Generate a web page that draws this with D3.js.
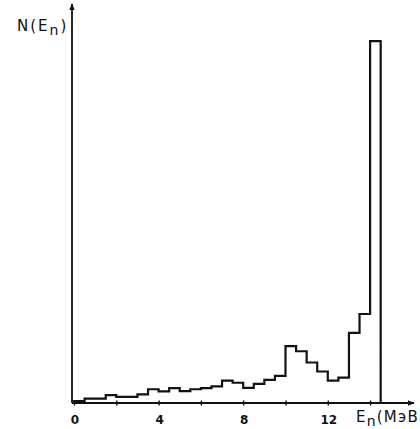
<!DOCTYPE html>
<html>
<head>
<meta charset="utf-8">
<script src="https://cdn.jsdelivr.net/npm/d3@7"></script>
<style>
    body { margin: 0; background: #fff; }
    svg { display: block; }
    .hist { fill: none; stroke: #111; stroke-width: 2.2; stroke-linejoin: miter; }
    .axis-line { stroke: #111; stroke-width: 1.8; fill: none; }
    .tick-label { font-family: "DejaVu Sans", sans-serif; font-size: 12px; font-weight: bold; fill: #111; }
    .title { font-family: "DejaVu Sans", sans-serif; font-size: 15px; letter-spacing: 2px; fill: #111; }
</style>
</head>
<body>
<div id="chart"></div>
<script>
// lower edge of each 0.5 MeV bin
const binStarts = [0, 0.5, 1, 1.5, 2, 2.5, 3, 3.5, 4, 4.5, 5, 5.5, 6, 6.5, 7, 7.5,
                   8, 8.5, 9, 9.5, 10, 10.5, 11, 11.5, 12, 12.5, 13, 13.5, 14]
const counts = [0.5, 1.2, 1.2, 2.2, 1.7, 1.7, 2.4, 3.8, 3.2, 4.1, 3.3, 3.8, 4.1, 4.6, 6.2, 5.6,
                4.2, 5.3, 6.4, 7.5, 15.7, 14.3, 11.2, 8.7, 6.2, 7.0, 19.4, 24.6, 100]
const binWidth = 0.5
const tickValues = [0, 2, 4, 6, 8, 10, 12, 14]
const tickLabels = [0, 4, 8, 12]

const W = 420, H = 429
const svg = d3.select('#chart').append('svg')
    .attr('width', W)
    .attr('height', H)

const xScale = d3.scaleLinear().domain([0, 16]).range([74, 412.4])
const yScale = d3.scaleLinear().domain([0, 110]).range([403, 5])
const axisX = 72

//Arrow heads
const defs = svg.append('defs')
defs.append('marker')
    .attr('id', 'arrow')
    .attr('viewBox', '0 0 10 10')
    .attr('refX', 9).attr('refY', 5)
    .attr('markerWidth', 7).attr('markerHeight', 7)
    .attr('markerUnits', 'userSpaceOnUse')
    .attr('orient', 'auto')
    .append('path')
    .attr('d', 'M0,1 L10,5 L0,9 Z')
    .attr('fill', '#111')

//Axes
svg.append('line')
    .attr('class', 'axis-line')
    .attr('x1', axisX).attr('y1', yScale(0))
    .attr('x2', axisX).attr('y2', 4)
    .attr('marker-end', 'url(#arrow)')
svg.append('line')
    .attr('class', 'axis-line')
    .attr('x1', axisX).attr('y1', yScale(0))
    .attr('x2', 414).attr('y2', yScale(0))
    .attr('marker-end', 'url(#arrow)')

const xAxis = svg.append('g')
    .attr('transform', `translate(0,${yScale(0)})`)
    .call(d3.axisBottom(xScale).tickValues(tickValues).tickSize(0).tickFormat(''))
xAxis.select('.domain').remove()
xAxis.selectAll('.tick').append('line')
    .attr('y1', -2.5).attr('y2', 2.5)
    .attr('stroke', '#111').attr('stroke-width', 1.4)

svg.append('g').selectAll('text')
    .data(tickLabels)
    .enter()
    .append('text')
    .attr('class', 'tick-label')
    .attr('x', (d) => xScale(d) + 1)
    .attr('y', 424)
    .attr('text-anchor', 'middle')
    .text((d) => d)

//Histogram
const points = [{ e: binStarts[0], c: 0 }]
binStarts.forEach((e, i) => points.push({ e: e, c: counts[i] }))
points.push({ e: binStarts[binStarts.length - 1] + binWidth, c: 0 })

const line = d3.line()
    .x((d) => xScale(d.e))
    .y((d) => yScale(d.c))
    .curve(d3.curveStepAfter)

svg.append('path')
    .datum(points)
    .attr('class', 'hist')
    .attr('d', line)

//Axis titles
const yTitle = svg.append('text')
    .attr('class', 'title')
    .attr('x', 17)
    .attr('y', 31)
yTitle.append('tspan').text('N(E')
yTitle.append('tspan').attr('dy', 4).attr('font-size', 14).text('n')
yTitle.append('tspan').attr('dy', -4).text(')')

// the reference cuts the unit at the page edge, so the closing bracket is not shown
const xTitle = svg.append('text')
    .attr('class', 'title')
    .attr('x', 356)
    .attr('y', 422)
    .style('letter-spacing', '1.2px')
xTitle.append('tspan').text('E')
xTitle.append('tspan').attr('dy', 4).attr('font-size', 14).text('n')
xTitle.append('tspan').attr('dy', -4).text('(МэВ')
</script>
</body>
</html>
